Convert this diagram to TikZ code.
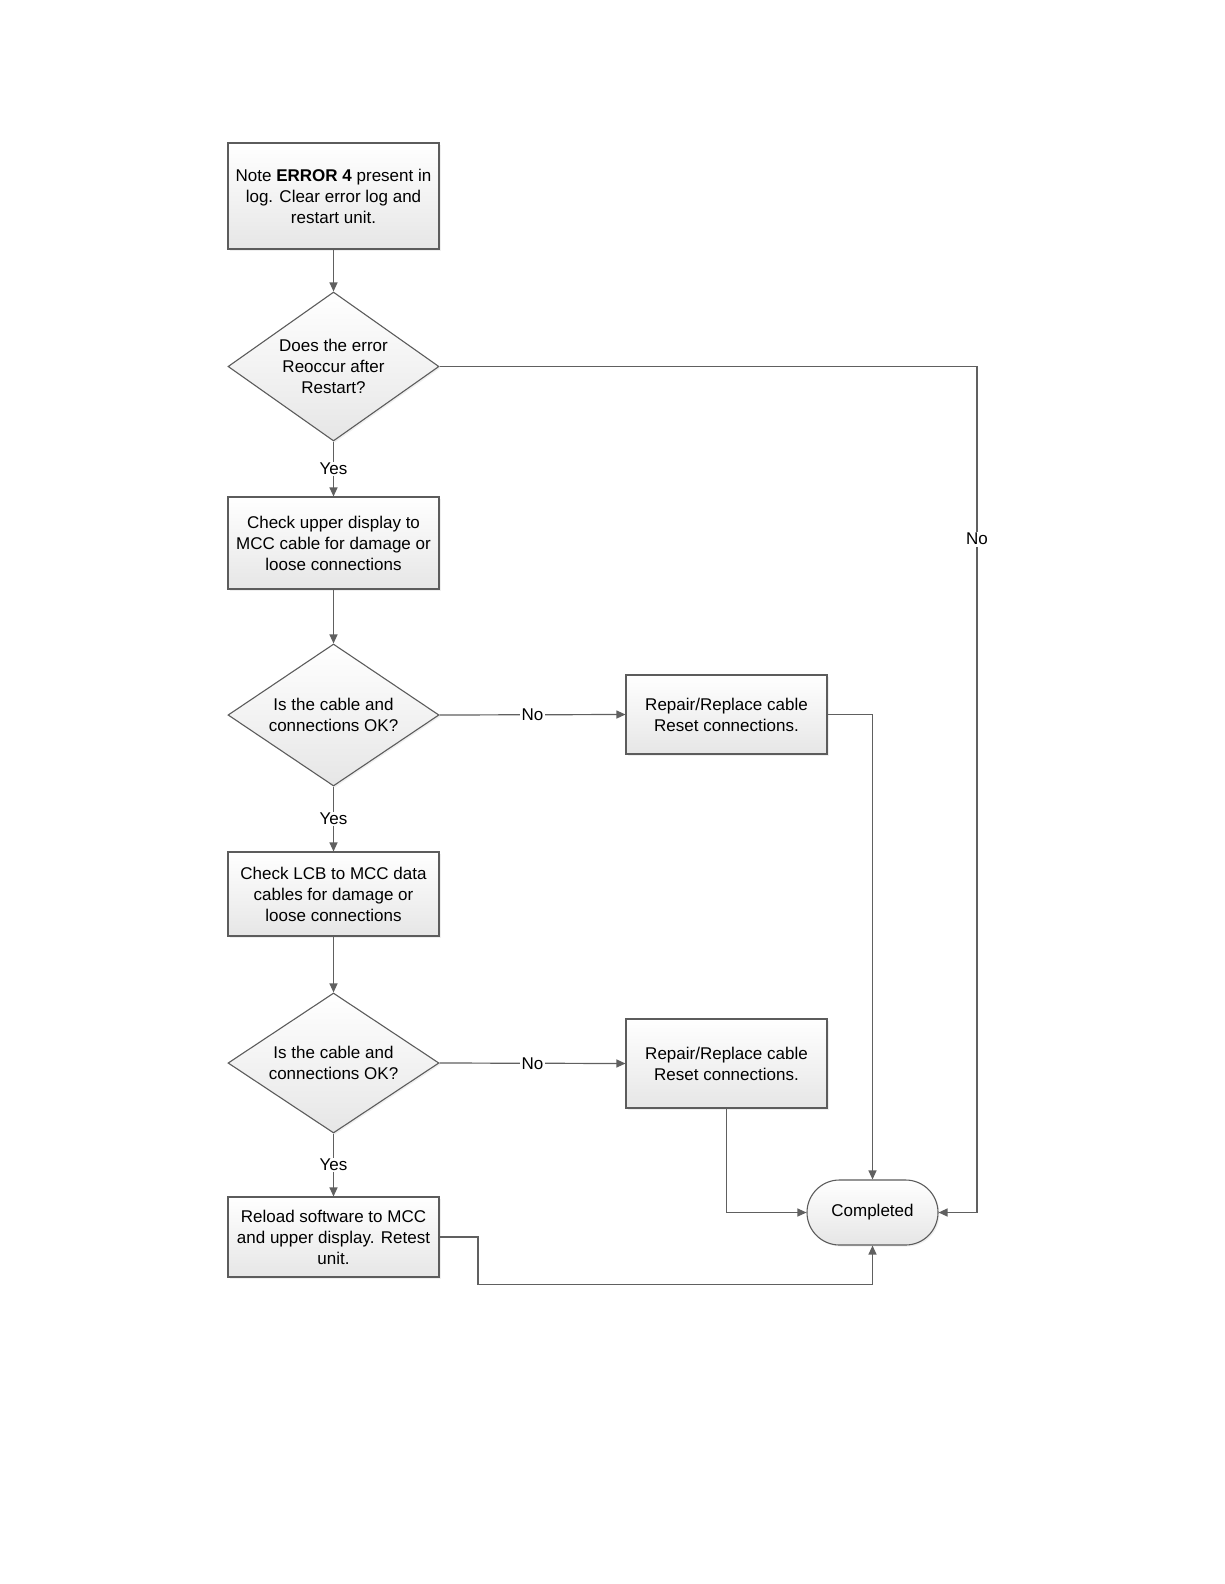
\documentclass[tikz,border=0pt]{standalone}
\usepackage{fontspec}
\setmainfont{Liberation Sans}
\usetikzlibrary{arrows.meta,shapes.geometric,shapes.misc,shadows}
\definecolor{edge}{HTML}{5C5C5C}
\definecolor{lnk}{HTML}{606060}
\definecolor{fillbot}{HTML}{E6E6E6}
\tikzset{
  base/.style={draw=edge, line width=1.1pt, top color=white, bottom color=fillbot,
    drop shadow={shadow xshift=1.5pt, shadow yshift=-1.5pt, opacity=0.12},
    font=\fontsize{17}{21}\selectfont, align=center, inner sep=0pt},
  procbox/.style={base, rectangle, minimum width=211pt},
  decbox/.style={base, diamond, aspect=1.416, minimum width=211pt},
  endbox/.style={base, rounded rectangle, minimum width=131pt, minimum height=65pt},
  arr/.style={draw=lnk, line width=1.2pt, -{Triangle[length=9pt,width=8pt]}},
  lbl/.style={fill=white, font=\fontsize{17}{21}\selectfont, inner sep=1.5pt}
}
\begin{document}
\begin{tikzpicture}[x=1pt,y=-1pt]
\useasboundingbox[fill=white] (0,0) rectangle (1224,1584);
\node[procbox, minimum height=106pt] (b1) at (333.5,196) {Note \textbf{ERROR 4} present in\\log. Clear error log and\\restart unit.};
\node[decbox, minimum height=149pt] (d1) at (333.5,366.5) {Does the error\\Reoccur after\\Restart?};
\node[procbox, minimum height=92pt] (b2) at (333.5,543) {Check upper display to\\MCC cable for damage or\\loose connections};
\node[decbox, minimum height=142pt] (d2) at (333.5,715) {Is the cable and\\connections OK?};
\node[procbox, minimum width=201pt, minimum height=79pt] (r1) at (726.5,714.5) {Repair/Replace cable\\Reset connections.};
\node[procbox, minimum height=84pt] (b3) at (333.5,894) {Check LCB to MCC data\\cables for damage or\\loose connections};
\node[decbox, minimum height=140pt] (d3) at (333.5,1063) {Is the cable and\\connections OK?};
\node[procbox, minimum width=201pt, minimum height=89pt] (r2) at (726.5,1063.5) {Repair/Replace cable\\Reset connections.};
\node[procbox, minimum height=80pt] (b4) at (333.5,1237) {Reload software to MCC\\and upper display. Retest\\unit.};
\node[endbox] (done) at (872.5,1212.5) {Completed};

\coordinate (c1) at (977,366.5);
\coordinate (c2) at (977,1212.5);
\coordinate (c3) at (478,1284.6);

\draw[arr] (b1.south) -- (d1.north);
\draw[arr] (d1.south) -- node[lbl]{Yes} (b2.north);
\draw[arr] (d1.east) -- (c1) -- node[lbl,pos=0.204]{No} (c2) -- (done.east);
\draw[arr] (b2.south) -- (d2.north);
\draw[arr] (d2.east) -- node[lbl]{No} (r1.west);
\draw[arr] (r1.east) -| (done.north);
\draw[arr] (d2.south) -- node[lbl]{Yes} (b3.north);
\draw[arr] (b3.south) -- (d3.north);
\draw[arr] (d3.east) -- node[lbl]{No} (r2.west);
\draw[arr] (d3.south) -- node[lbl]{Yes} (b4.north);
\draw[arr] (r2.south) |- (done.west);
\draw[arr] (b4.east) -| (c3) -| (done.south);
\end{tikzpicture}
\end{document}
